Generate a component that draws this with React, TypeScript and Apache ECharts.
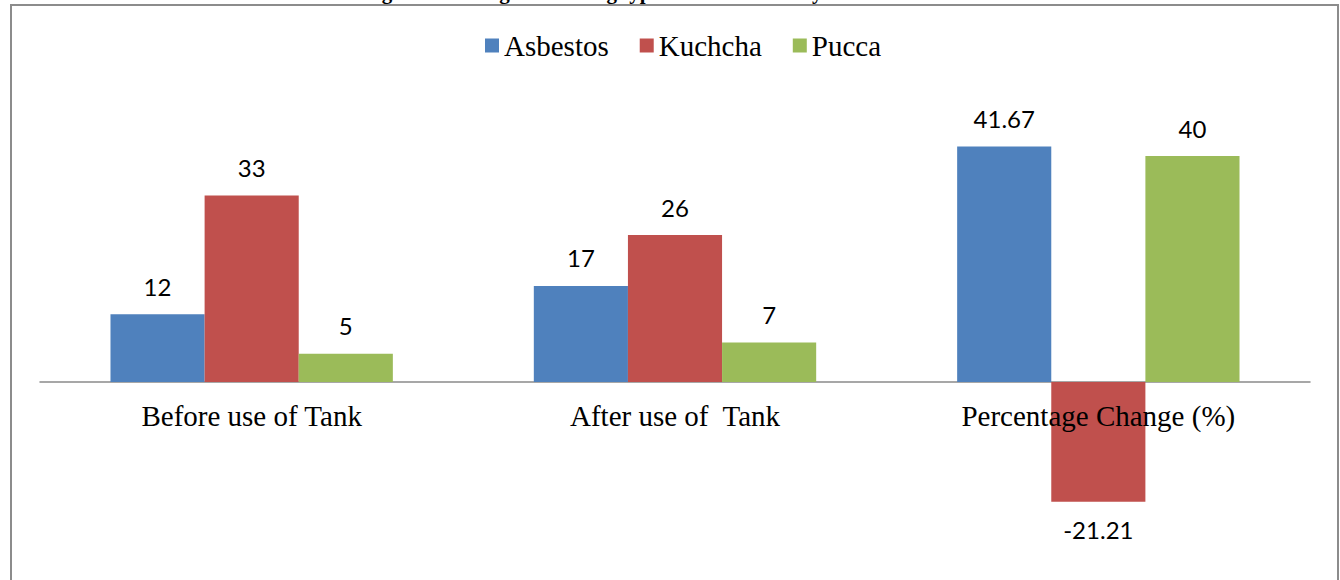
import React, { useEffect, useRef } from "react";
import * as echarts from "echarts";

const categories = ["Before use of Tank", "After use of  Tank", "Percentage Change (%)"];
const seriesNames = ["Asbestos", "Kuchcha", "Pucca"];
const asbestos = [12, 17, 41.67];
const kuchcha = [33, 26, -21.21];
const pucca = [5, 7, 40];
const colors = ["#4F81BD", "#C0504D", "#9BBB59"];
const titleText = "Figure 3: Change in housing type of the beneficiary households";

export default function App() {
  const ref = useRef<HTMLDivElement>(null);
  useEffect(() => {
    if (!ref.current) return;
    const chart = echarts.init(ref.current, null, { renderer: "svg" });
    const labelStyle = {
      show: true,
      fontFamily: "Lato",
      fontSize: 24,
      color: "#000",
      distance: 16,
    };
    const mk = (name: string, values: number[], color: string) => ({
      name,
      type: "bar",
      xAxisIndex: 0,
      yAxisIndex: 0,
      barGap: "0%",
      barCategoryGap: "33.3%",
      itemStyle: { color },
      label: { ...labelStyle, position: "top" },
      data: values.map((v) =>
        v < 0 ? { value: v, label: { position: "bottom", distance: 16 } } : v
      ),
    });
    chart.setOption({
      animation: false,
      backgroundColor: "#fff",
      color: colors,
      legend: {
        top: 26,
        left: 480,
        itemWidth: 14,
        itemHeight: 14,
        itemGap: 31,
        icon: "rect",
        textStyle: { fontFamily: "Liberation Serif", fontSize: 29, color: "#000" },
        data: seriesNames,
      },
      grid: [
        { left: 40, right: 30, top: 43, height: 508.5, containLabel: false, outerBoundsMode: "none" },
        { left: 40, right: 30, top: 43, height: 339, containLabel: false, outerBoundsMode: "none" },
      ],
      xAxis: [
        {
          type: "category",
          gridIndex: 0,
          data: categories,
          axisLine: { show: true, onZero: true, lineStyle: { color: "#8a8a8a", width: 1.5 } },
          axisTick: { show: false },
          axisLabel: { show: false },
        },
        {
          type: "category",
          gridIndex: 1,
          z: 10,
          data: categories,
          axisLine: { show: false },
          axisTick: { show: false },
          axisLabel: {
            fontFamily: "Liberation Serif",
            fontSize: 29,
            color: "#000",
            margin: 19,
          },
        },
      ],
      yAxis: [
        { type: "value", gridIndex: 0, min: -30, max: 60, show: false, splitLine: { show: false } },
        { type: "value", gridIndex: 1, min: 0, max: 60, show: false, splitLine: { show: false } },
      ],
      graphic: [
        {
          type: "rect",
          shape: { x: 11, y: 5, width: 1327, height: 600 },
          style: { fill: "none", stroke: "#8c8c8c", lineWidth: 2 },
          silent: true,
        },
        {
          type: "text",
          x: 645,
          y: 2,
          style: {
            text: titleText,
            fontFamily: "Liberation Serif",
            fontWeight: "bold",
            fontSize: 21,
            fill: "#000",
            align: "center",
            verticalAlign: "bottom",
          },
          silent: true,
        },
      ],
      series: [
        mk(seriesNames[0], asbestos, colors[0]),
        mk(seriesNames[1], kuchcha, colors[1]),
        mk(seriesNames[2], pucca, colors[2]),
      ],
    });
    return () => chart.dispose();
  }, []);
  return (
    <div
      ref={ref}
      style={{ position: "fixed", left: 0, top: 0, width: 1340, height: 580, background: "#fff" }}
    />
  );
}
